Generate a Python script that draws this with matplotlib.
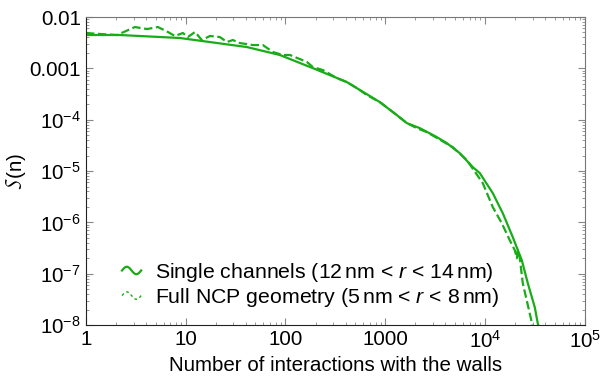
import matplotlib
matplotlib.use('Agg')
import matplotlib.pyplot as plt
from matplotlib.lines import Line2D
from matplotlib.legend_handler import HandlerBase
from matplotlib.ticker import LogLocator, NullFormatter
import numpy as np

plt.rcParams.update({'font.size': 14.8, 'font.family': ['Liberation Sans', 'DejaVu Sans'],
                     'mathtext.fontset': 'custom', 'mathtext.rm': 'Liberation Sans',
                     'mathtext.it': 'Liberation Sans:italic'})

# single channels (12 nm < r < 14 nm)
n_single = [1, 2.19, 8.75, 41, 87.9, 188, 412, 883, 1306, 1646, 2222, 3289, 4141,
            5585, 7551, 8873, 11970, 15070, 19000, 23380, 26850, 31550, 33800, 36250]
s_single = [4.46e-3, 4.46e-3, 3.90e-3, 2.60e-3, 1.82e-3, 1.01e-3, 5.41e-4, 2.20e-4,
            1.23e-4, 8.59e-5, 6.85e-5, 4.58e-5, 3.50e-5, 2.23e-5, 1.19e-5, 9.10e-6,
            3.71e-6, 1.51e-6, 5.14e-7, 1.83e-7, 6.53e-8, 2.22e-8, 1.08e-8, 6.3e-9]

# full NCP geometry (5 nm < r < 8 nm)
n_full = [1, 1.38, 2.05, 3.10, 4.09, 5.26, 6.63, 7.79, 9.37, 10.5, 12.4, 14.5, 17.5,
          22.0, 25.9, 29.7, 34.9, 47.1, 59.4, 74.8, 94.2, 111, 164, 188, 237, 327,
          412, 519, 654, 883, 1192, 1646, 2074, 2612, 4753, 6577, 9506, 11970,
          14730, 17700, 19900, 20850, 21330, 22330, 23920, 29440, 30830]
s_full = [4.88e-3, 4.67e-3, 4.46e-3, 6.38e-3, 5.83e-3, 6.38e-3, 5.11e-3, 4.27e-3,
          4.88e-3, 4.07e-3, 5.11e-3, 3.56e-3, 4.27e-3, 4.07e-3, 3.26e-3, 3.56e-3,
          3.11e-3, 2.84e-3, 2.84e-3, 2.08e-3, 1.82e-3, 1.82e-3, 1.33e-3, 1.06e-3,
          9.26e-4, 6.47e-4, 5.41e-4, 4.13e-4, 3.02e-4, 2.20e-4, 1.41e-4, 8.59e-5,
          6.85e-5, 5.73e-5, 2.92e-5, 1.63e-5, 5.81e-6, 1.98e-6, 9.63e-7, 4.50e-7,
          2.87e-7, 2.0e-7, 2.87e-7, 2.0e-7, 6.53e-8, 1.13e-8, 6.3e-9]

xticks = [1, 10, 100, 1000, 1e4, 1e5]
xlabels = ['1', '10', '100', '1000', r'$10^{4}$', r'$10^{5}$']
yticks = [1e-8, 1e-7, 1e-6, 1e-5, 1e-4, 1e-3, 1e-2]
ylabels = [r'$10^{-8}$', r'$10^{-7}$', r'$10^{-6}$', r'$10^{-5}$', r'$10^{-4}$', '0.001', '0.01']

green = '#18ac18'


class WavyHandler(HandlerBase):
    def create_artists(self, legend, orig_handle, xdescent, ydescent, width, height,
                       fontsize, trans):
        t = np.linspace(0, 1, 40)
        x = -xdescent + t * width
        y = -ydescent + height / 2 + 0.25 * height * np.sin(2 * np.pi * t)
        ln = Line2D(x, y, color=orig_handle.get_color(), lw=orig_handle.get_linewidth())
        if orig_handle.get_linestyle() == '--':
            ln.set_dashes((2.0, 2.0))
            ln.set_linewidth(1.0)
        ln.set_transform(trans)
        return [ln]


fig = plt.figure(figsize=(6.01, 3.78), dpi=100)
ax = fig.add_axes([0.143, 0.140, 0.830, 0.815])
l1, = ax.plot(n_single, s_single, color=green, lw=1.6)
l2, = ax.plot(n_full, s_full, color=green, lw=1.6, linestyle='--', dashes=(3.8, 1.6))
ax.set_xscale('log')
ax.set_yscale('log')
ax.set_xlim(1, 1e5)
ax.set_ylim(1e-8, 1e-2)
ax.set_xticks(xticks)
ax.set_xticklabels(xlabels)
ax.set_yticks(yticks)
ax.set_yticklabels(ylabels)
ax.xaxis.set_minor_locator(LogLocator(base=10, subs=np.arange(2, 10)))
ax.yaxis.set_minor_locator(LogLocator(base=10, subs=np.arange(2, 10), numticks=20))
ax.xaxis.set_minor_formatter(NullFormatter())
ax.yaxis.set_minor_formatter(NullFormatter())
ax.tick_params(which='both', direction='in', top=True, right=True, color='#888888')
ax.tick_params(which='major', length=5, width=0.8)
ax.tick_params(which='minor', length=2.5, width=0.6)
for s in ['left', 'bottom']:
    ax.spines[s].set_color('#222222')
for s in ['top', 'right']:
    ax.spines[s].set_color('#777777')

ax.set_xlabel('Number of interactions with the walls', labelpad=3)
ax.set_ylabel(r'$\mathcal{S}$(n)', labelpad=1)

ax.legend([l1, l2], [r'Single channels (12$\,$nm < $r$ < 14$\,$nm)',
                     r'Full NCP geometry (5$\,$nm < $r$ < 8$\,$nm)'],
          handler_map={l1: WavyHandler(), l2: WavyHandler()},
          loc='lower left', bbox_to_anchor=(0.034, -0.01), frameon=False,
          fontsize=15.3, handlelength=0.9, handletextpad=0.65, labelspacing=0.1)

fig.savefig('out.png', dpi=100)
